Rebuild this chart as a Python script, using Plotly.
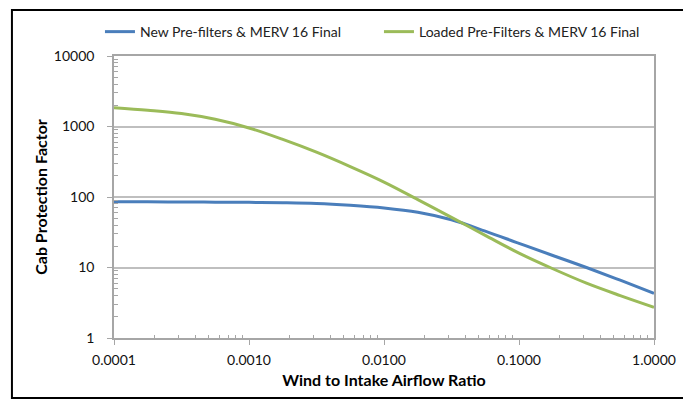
import plotly.graph_objects as go

ratio = [0.0001, 0.000178, 0.000316, 0.000562, 0.001, 0.00178, 0.00316, 0.00562,
         0.01, 0.0178, 0.0316, 0.0562, 0.1, 0.178, 0.316, 0.562, 1.0]
new_prefilters = [85.5, 85.3, 85.0, 84.5, 84.0, 83.0, 81.0, 76.3,
                  69.9, 60.7, 47.5, 32.8, 22.0, 14.8, 10.0, 6.6, 4.3]
loaded_prefilters = [1850, 1700, 1525, 1265, 953, 655, 432, 270,
                     163, 92, 51.5, 28.6, 16.0, 9.6, 6.0, 4.0, 2.73]

x_ticks = [0.0001, 0.001, 0.01, 0.1, 1.0]
x_ticktext = ["0.0001", "0.0010", "0.0100", "0.1000", "1.0000"]
y_ticks = [1, 10, 100, 1000, 10000]
y_ticktext = ["1", "10", "100", "1000", "10000"]
minor_mult = [2, 3, 4, 5, 6, 7, 8, 9]

FONT = "Lato"
AXIS_GRAY = "#A6A6A6"

x_minor = [m * d for d in x_ticks[:-1] for m in minor_mult]
y_minor = [m * d for d in y_ticks[:-1] for m in minor_mult]

fig = go.Figure()
fig.add_trace(go.Scatter(x=ratio, y=new_prefilters, mode="lines",
                         name="New Pre-filters & MERV 16 Final",
                         line=dict(color="#4A7EBB", width=3, shape="spline", smoothing=1.0)))
fig.add_trace(go.Scatter(x=ratio, y=loaded_prefilters, mode="lines",
                         name="Loaded Pre-Filters & MERV 16 Final",
                         line=dict(color="#9BBB59", width=3, shape="spline", smoothing=1.0)))

# page body has an 8px margin, so the figure is sized 683x400 and offset accordingly
fig.update_layout(
    width=683, height=400,
    margin=dict(l=106, r=37, t=48, b=70, autoexpand=False),
    paper_bgcolor="white", plot_bgcolor="white",
    font=dict(family=FONT, size=14, color="#000000"),
    showlegend=True,
    legend=dict(orientation="h", x=-0.026, y=1.085, xanchor="left", yanchor="middle",
                font=dict(size=14, color="#222222"), entrywidth=234, entrywidthmode="pixels",
                bgcolor="rgba(0,0,0,0)"),
    xaxis=dict(type="log", range=[-4, 0], tickvals=x_ticks, ticktext=x_ticktext,
               showgrid=False, showline=True, linecolor=AXIS_GRAY, linewidth=1.5, mirror=True,
               ticks="outside", ticklen=5, tickcolor=AXIS_GRAY, ticklabelstandoff=3,
               minor=dict(ticks="inside", ticklen=3, tickcolor=AXIS_GRAY, showgrid=False,
                          tickmode="array", tickvals=x_minor),
               tickfont=dict(size=14, color="#111111"),
               title=dict(text="<b>Wind to Intake Airflow Ratio</b>", font=dict(size=16), standoff=8)),
    yaxis=dict(type="log", range=[0, 4], tickvals=y_ticks, ticktext=y_ticktext,
               showgrid=True, gridcolor="#BFBFBF", gridwidth=2,
               showline=True, linecolor=AXIS_GRAY, linewidth=1.5, mirror=True,
               ticks="outside", ticklen=5, tickcolor=AXIS_GRAY, ticklabelstandoff=10,
               minor=dict(ticks="inside", ticklen=4, tickcolor=AXIS_GRAY, showgrid=False,
                          tickmode="array", tickvals=y_minor),
               tickfont=dict(size=14, color="#111111"),
               title=dict(text="<b>Cab Protection Factor</b>", font=dict(size=16), standoff=2)),
)

fig.add_shape(type="rect", xref="paper", yref="paper",
              x0=-0.189, x1=1.0574, y0=-0.2128, y1=1.163,
              line=dict(color="black", width=2), fillcolor="rgba(0,0,0,0)", layer="below")

fig.write_html("out.html")
